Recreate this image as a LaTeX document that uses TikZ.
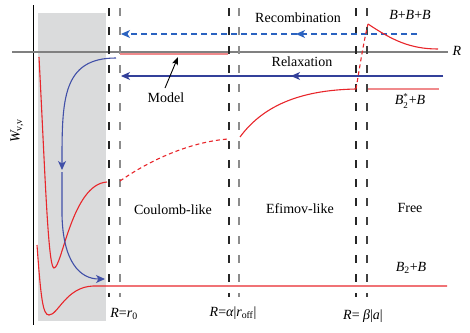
\documentclass[tikz,border=0pt]{standalone}
\usepackage{fontspec}
\setmainfont{Liberation Serif}
\usetikzlibrary{arrows.meta}
\definecolor{redc}{HTML}{E8262B}
\definecolor{pinkc}{HTML}{F08A8C}
\definecolor{bluec}{HTML}{4150A8}
\definecolor{bluedash}{HTML}{2A62C0}
\definecolor{navy}{HTML}{33409A}
\definecolor{boxgray}{HTML}{DADBDC}
\definecolor{axgray}{HTML}{808080}
\begin{document}
\begin{tikzpicture}[x=1pt,y=-1pt, font=\fontsize{14}{16}\selectfont,
 lbl/.style={inner sep=0pt, anchor=center},
 vdash/.style={line width=1.3pt, dash pattern=on 8pt off 11pt},
 reddash/.style={dash pattern=on 4pt off 3pt},
 redcurve/.style={redc, line width=1.1pt},
 pinkline/.style={pinkc, line width=1.4pt},
 tip/.style={-{Stealth[length=9pt,width=8pt,inset=2.5pt]}}]
\useasboundingbox (0,0) rectangle (470,332);
% shaded region
\fill[boxgray] (38,13) rectangle (106,321);
% axes
\coordinate (vtop) at (33,5); \coordinate (vbot) at (33,325);
\coordinate (hl) at (12,52); \coordinate (hr) at (448,52);
\draw[black, line width=0.8pt] (vtop) -- (vbot);
\draw[axgray, line width=1.4pt] (hl) -- (hr);
\node[lbl] (Rax) at (457,51) {\itshape R};
\node[lbl, rotate=90] (W) at (17,131) {\itshape W\textsubscript{\upshape v,v}};
% dashed verticals
\draw[vdash, black!85, line width=1.1pt] (109,8) -- (109,297);
\draw[vdash, black!45, line width=1.6pt] (120,8) -- (120,297);
\draw[vdash, black!85, line width=1.1pt] (229,8) -- (229,297);
\draw[vdash, black!45, line width=1.6pt] (239,8) -- (239,297);
\draw[vdash, black!85, line width=1.1pt] (356,8) -- (356,297);
\draw[vdash, black!75, line width=1.3pt] (367,8) -- (367,297);
% recombination / relaxation arrows
\coordinate (recR) at (417,34); \coordinate (recM) at (296,34); \coordinate (recL) at (121,34);
\draw[bluedash, line width=1.1pt, dash pattern=on 6pt off 4pt, tip] (recR) -- (recL);
\draw[bluedash, line width=1.1pt, tip] (recM) ++(8,0) -- (recM);
\coordinate (relR) at (443,76); \coordinate (relM) at (291,76); \coordinate (relL) at (121,76);
\draw[navy, line width=1.1pt, tip] (relR) -- (relL);
\draw[navy, line width=1.1pt, tip] (relR) -- (relM);
\node[lbl] (rec) at (298,18) {Recombination};
\node[lbl] (rel) at (302,62) {Relaxation};
% model
\coordinate (mL) at (120,54); \coordinate (mR) at (228,54);
\draw[pinkline] (mL) -- (mR);
\node[lbl] (model) at (166,98) {Model};
\coordinate (mtip) at (178,57);
\draw[black, line width=0.9pt, -{Stealth[length=8pt,width=6pt,inset=2pt]}] (165,88) -- (mtip);
% B+B+B
\draw[redcurve, reddash] (356,89) .. controls (360,65) and (364,40) .. (368,24);
\draw[redcurve] (368,24) .. controls (392,40) and (410,49) .. (438,49);
\node[lbl] (bbb) at (410,15) {\itshape B\upshape+\itshape B\upshape+\itshape B};
% B2* + B
\draw[pinkline] (368,89) -- (439,89);
\node[lbl] (b2s) at (410,101) {\itshape B\rlap{\raisebox{-3.5pt}{\fontsize{9}{9}\selectfont\upshape 2}}\raisebox{5pt}{\fontsize{9}{9}\selectfont\upshape *}\kern1pt\upshape+\itshape B};
\draw[redcurve] (240,137) .. controls (265,103) and (305,90) .. (356,89);
\draw[redcurve, reddash] (120,181) .. controls (150,160) and (190,142) .. (228,139);
% potential wells
\draw[redcurve] (39,57) .. controls (45,170) and (48,268) .. (54,268)
   .. controls (62,268) and (72,184) .. (107,182);
\draw[redcurve] (37,245) .. controls (41,300) and (43,315) .. (49,315)
   .. controls (58,315) and (66,287) .. (93,286) -- (447,286);
\node[lbl] (b2) at (411,268) {\itshape B\textsubscript{\upshape 2}\upshape+\itshape B};
% blue relaxation path
\coordinate (bs) at (116,58); \coordinate (bm) at (62,170); \coordinate (be) at (105,279);
\draw[bluec, line width=1.1pt, tip] (bs) .. controls (62,58) and (62,100) .. (bm);
\draw[bluec, line width=1.1pt, tip] (62,172) -- (62,215) .. controls (63,262) and (80,279) .. (be);
% region labels
\node[lbl] (coul) at (173,210) {Coulomb-like};
\node[lbl] (efim) at (300,209) {Efimov-like};
\node[lbl] (free) at (410,208) {Free};
\node[lbl] (r0) at (124,314) {\itshape R\upshape=\itshape r\textsubscript{\upshape 0}};
\node[lbl] (roff) at (233,313) {\itshape R\upshape=\itshape α\upshape|\itshape r\textsubscript{\upshape off}\upshape|};
\node[lbl] (ra) at (363,316) {\itshape R\upshape= \itshape β\upshape|\itshape a\upshape|};
\end{tikzpicture}
\end{document}
